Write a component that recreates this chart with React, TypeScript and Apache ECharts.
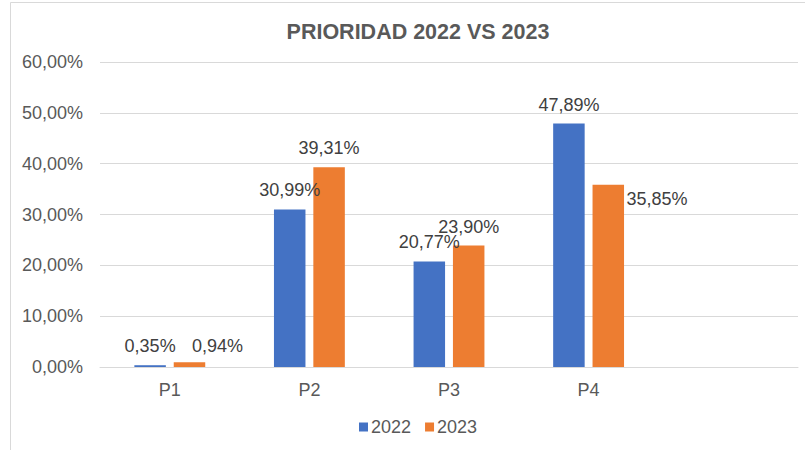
import React, { useEffect, useRef } from "react";
import * as echarts from "echarts";

const categories = ["P1", "P2", "P3", "P4", ""];
const values2022 = [0.35, 30.99, 20.77, 47.89, null];
const values2023 = [0.94, 39.31, 23.9, 35.85, null];
const yTicks = [0, 10, 20, 30, 40, 50, 60];
const seriesNames = ["2022", "2023"];

const fmt = (v: number) => v.toFixed(2).replace(".", ",") + "%";

export default function App() {
  const ref = useRef<HTMLDivElement>(null);
  useEffect(() => {
    if (!ref.current) return;
    const chart = echarts.init(ref.current, null, { renderer: "svg" });
    const font = "Liberation Sans, Arial, sans-serif";
    const labelBase = {
      show: true,
      position: "top" as const,
      distance: 10,
      fontSize: 18,
      color: "#404040",
      fontFamily: font,
      formatter: (p: any) => fmt(p.value),
    };
    const d2022 = values2022.map((v) => ({ value: v }));
    const d2023 = values2023.map((v, i) => {
      if (i === 0) return { value: v, label: { offset: [28, 3] } };
      if (i === 3)
        return {
          value: v,
          label: {
            position: [34, 14],
            align: "left",
            verticalAlign: "middle",
          },
        };
      return { value: v };
    });
    chart.setOption({
      animation: false,
      backgroundColor: "#ffffff",
      title: {
        text: "PRIORIDAD 2022 VS 2023",
        left: 413,
        textAlign: "center",
        top: 16,
        textStyle: {
          fontSize: 21.5,
          fontWeight: "bold",
          color: "#595959",
          fontFamily: font,
        },
      },
      graphic: [
        {
          type: "rect",
          shape: { x: 10.5, y: 2.5, width: 820, height: 470 },
          style: { fill: "none", stroke: "#d9d9d9", lineWidth: 1 },
          silent: true,
        },
      ],
      legend: {
        data: seriesNames,
        left: 354,
        top: 413,
        itemWidth: 9,
        itemHeight: 9,
        itemGap: 14,
        icon: "rect",
        textStyle: { fontSize: 18, color: "#595959", fontFamily: font, padding: [0, 0, 0, -2] },
      },
      grid: { left: 100, right: 7, top: 62, bottom: 83, containLabel: false },
      xAxis: {
        type: "category",
        data: categories,
        axisLine: { lineStyle: { color: "#d9d9d9", width: 1 } },
        axisTick: { show: false },
        axisLabel: { fontSize: 18, color: "#595959", fontFamily: font, margin: 14 },
      },
      yAxis: {
        type: "value",
        min: yTicks[0],
        max: yTicks[yTicks.length - 1],
        interval: 10,
        axisLine: { show: false },
        axisTick: { show: false },
        splitLine: { lineStyle: { color: "#d9d9d9", width: 1 } },
        axisLabel: {
          fontSize: 18,
          color: "#595959",
          fontFamily: font,
          margin: 17,
          formatter: (v: number) => fmt(v),
        },
      },
      series: [
        {
          name: seriesNames[0],
          type: "bar",
          data: d2022,
          barWidth: 31.5,
          barGap: "25%",
          itemStyle: { color: "#4472C4" },
          label: labelBase,
        },
        {
          name: seriesNames[1],
          type: "bar",
          data: d2023,
          barWidth: 31.5,
          barGap: "25%",
          itemStyle: { color: "#ED7D31" },
          label: labelBase,
        },
      ],
    });
    return () => chart.dispose();
  }, []);
  return (
    <div
      ref={ref}
      style={{ position: "fixed", left: 0, top: 0, width: 805, height: 450 }}
    />
  );
}
